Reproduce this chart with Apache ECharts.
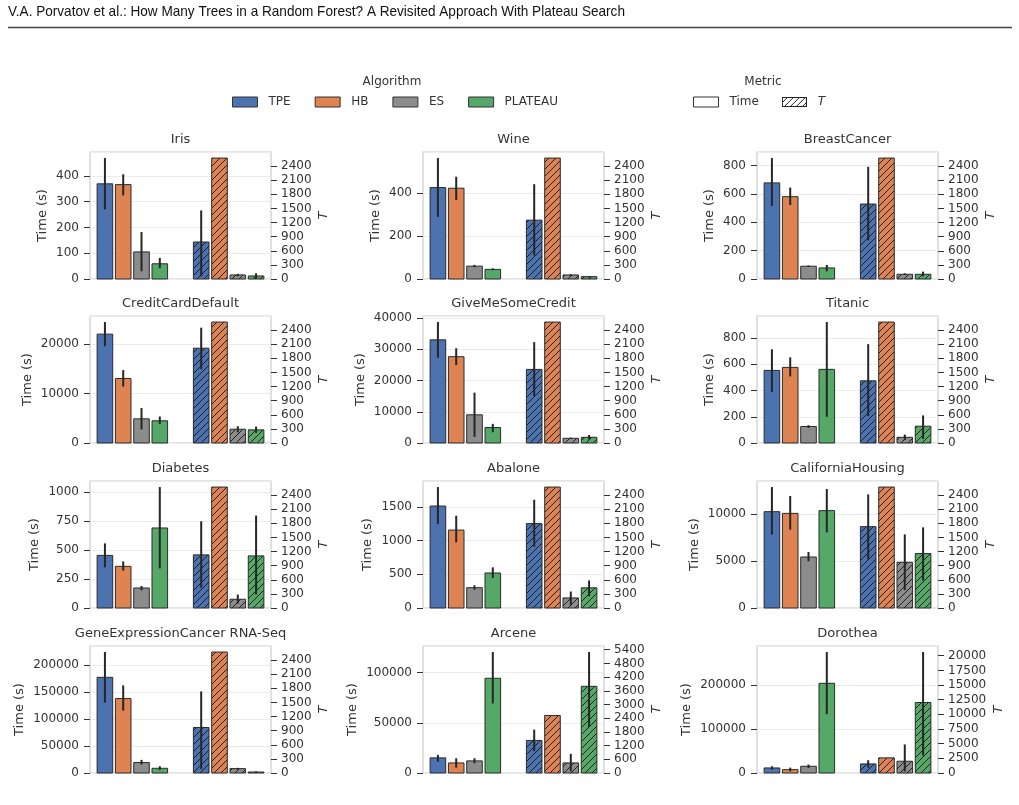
<!DOCTYPE html>
<html><head><meta charset="utf-8">
<script src="https://cdn.jsdelivr.net/npm/echarts@6/dist/echarts.min.js"></script>
<style>html,body{margin:0;padding:0;background:#fff}#c{width:1019px;height:805px}</style>
</head><body><div id="c"></div>
<script>
// ---------------- DATA ----------------
const datasets = ['Iris', 'Wine', 'BreastCancer', 'CreditCardDefault', 'GiveMeSomeCredit', 'Titanic',
  'Diabetes', 'Abalone', 'CaliforniaHousing', 'GeneExpressionCancer RNA-Seq', 'Arcene', 'Dorothea'];
const algorithms = ['TPE', 'HB', 'ES', 'PLATEAU'];
const metrics = ['Time', 'T'];

// Time (s): mean, lower CI, upper CI  (order: TPE, HB, ES, PLATEAU)
const timeMean = [
  [369, 366, 105, 59], [427, 424, 60, 45], [677, 580, 90, 78],
  [21970, 13020, 4880, 4480], [33010, 27630, 9030, 4950], [554, 577, 126, 562],
  [455, 360, 173, 692], [1515, 1158, 302, 520], [10250, 10070, 5430, 10360],
  [177500, 138100, 19400, 8750], [15050, 10030, 12040, 94310], [11450, 7630, 15270, 203800]];
const timeLo = [
  [270, 324, 30, 42], [290, 369, 55, 41], [514, 521, 85, 54],
  [19530, 11390, 2710, 3860], [27310, 24950, 1940, 3440], [390, 508, 115, 200],
  [352, 323, 153, 343], [1248, 975, 272, 446], [7800, 8330, 4970, 8050],
  [130600, 115600, 15600, 5600], [11370, 5350, 9700, 69230], [7630, 3820, 11450, 133600]];
const timeHi = [
  [469, 406, 182, 82], [565, 478, 66, 50], [852, 644, 95, 99],
  [24410, 14710, 7050, 5360], [38710, 30320, 16130, 6130], [715, 654, 136, 923],
  [559, 403, 190, 1046], [1797, 1371, 337, 604], [12870, 11920, 5960, 12660],
  [224400, 162500, 24400, 12500], [18060, 14720, 14720, 120400], [15270, 12210, 19080, 274800]];

// T (number of trees): mean, lower CI, upper CI
const tMean = [
  [786, 2570, 86, 64], [1250, 2570, 86, 50], [1593, 2570, 100, 100],
  [2014, 2570, 293, 279], [1564, 2570, 100, 121], [1321, 2570, 121, 357],
  [1129, 2570, 186, 1107], [1793, 2570, 214, 429], [1729, 2570, 971, 1157],
  [967, 2570, 93, 21], [1427, 2520, 441, 3796], [1547, 2580, 2006, 12030]];
const tLo = [
  [57, 2570, 60, 5], [500, 2570, 64, 36], [821, 2570, 86, 57],
  [1571, 2570, 229, 214], [1000, 2570, 85, 79], [571, 2570, 64, 86],
  [429, 2570, 93, 286], [1300, 2570, 57, 250], [1036, 2570, 379, 586],
  [86, 2570, 70, 10], [956, 2520, 74, 2016], [917, 2580, 287, 2980]];
const tHi = [
  [1457, 2570, 110, 121], [2014, 2570, 100, 64], [2386, 2570, 121, 157],
  [2450, 2570, 357, 350], [2143, 2570, 115, 171], [2100, 2570, 179, 586],
  [1843, 2570, 286, 1964], [2300, 2570, 350, 586], [2414, 2570, 1564, 1714],
  [1734, 2570, 110, 35], [1898, 2520, 839, 5297], [2178, 2580, 4871, 20630]];

// tick steps of the two axes of each panel
const timeInterval = [100, 200, 200, 10000, 10000, 200, 250, 500, 5000, 50000, 50000, 100000];
const tInterval = [300, 300, 300, 300, 300, 300, 300, 300, 300, 300, 600, 2500];

// ---------------- STYLE ----------------
const COLORS = ['#4c72b0', '#dd8452', '#8c8c8c', '#55a868'];
const EDGE = '#2a2a2a';
const TEXT = '#333333';
const FONT = 'DejaVu Sans';
const COL_LEFT = [90, 423, 757];
const ROW_TOP = [152, 316, 481, 646];
const PW = 181, PH = 127;
const PITCH = 0.19, BAR_W = 0.162;

function hatchTile(fill) {
  const s = 7, c = document.createElement('canvas');
  c.width = s; c.height = s;
  const g = c.getContext('2d');
  g.fillStyle = fill; g.fillRect(0, 0, s, s);
  g.strokeStyle = '#1e1e1e'; g.lineWidth = 1;
  g.beginPath();
  for (const k of [0, s, 2 * s]) { g.moveTo(-1, k + 1); g.lineTo(k + 1, -1); }
  g.stroke();
  return c;
}
const patterns = COLORS.map(c => ({ image: hatchTile(c), repeat: 'repeat' }));

function legendHatchIcon() {
  const w = 25, h = 10, c = document.createElement('canvas');
  c.width = w; c.height = h;
  const g = c.getContext('2d');
  g.fillStyle = '#fff'; g.fillRect(0, 0, w, h);
  g.strokeStyle = '#222'; g.lineWidth = 1;
  g.beginPath();
  for (let k = 0; k <= w + h; k += 6) { g.moveTo(k - h - 1, h + 1); g.lineTo(k + 1, -1); }
  g.stroke();
  g.strokeRect(0.5, 0.5, w - 1, h - 1);
  return 'image://' + c.toDataURL();
}

const grid = [], xAxis = [], yAxis = [], series = [], title = [];

title.push({ text: 'Algorithm', left: 392, top: 76, padding: 0, textAlign: 'center',
  textStyle: { fontFamily: FONT, fontSize: 12, fontWeight: 'normal', color: TEXT } });
title.push({ text: 'Metric', left: 763, top: 76, padding: 0, textAlign: 'center',
  textStyle: { fontFamily: FONT, fontSize: 12, fontWeight: 'normal', color: TEXT } });

function makeRender(k, m) {
  return function (params, api) {
    const x = api.value(0), v = api.value(1), lo = api.value(2), hi = api.value(3);
    const xc = x + (k - 1.5) * PITCH;
    const p0 = api.coord([xc - BAR_W / 2, v]);
    const p1 = api.coord([xc + BAR_W / 2, 0]);
    const children = [{
      type: 'rect',
      shape: { x: p0[0], y: p0[1], width: p1[0] - p0[0], height: p1[1] - p0[1] },
      style: { fill: m === 1 ? patterns[k] : COLORS[k], stroke: EDGE, lineWidth: 1 }
    }];
    if (hi > lo) {
      const a = api.coord([xc, lo]), b = api.coord([xc, hi]);
      children.push({ type: 'line', shape: { x1: a[0], y1: a[1], x2: b[0], y2: b[1] },
        style: { stroke: '#262626', lineWidth: 2 }, z2: 10 });
    }
    return { type: 'group', children };
  };
}

function tickFormatter(step) {
  return v => (Math.abs(v / step - Math.round(v / step)) < 1e-6 ? String(Math.round(v)) : '');
}

datasets.forEach((name, i) => {
  const r = Math.floor(i / 3), c = i % 3;
  const left = COL_LEFT[c], top = ROW_TOP[r];
  grid.push({ left, top, width: PW, height: PH, show: true, borderColor: '#cccccc', borderWidth: 1.2, backgroundColor: 'transparent' });
  title.push({ text: name, left: left + PW / 2, top: top - 19, padding: 0, textAlign: 'center',
    textStyle: { fontFamily: FONT, fontSize: 13, fontWeight: 'normal', color: TEXT } });
  xAxis.push({ type: 'value', gridIndex: i, min: -0.44, max: 1.44, show: false, axisLine: { onZero: false } });

  const timeMax = Math.max(...timeMean[i], ...timeHi[i]) * 1.05;
  const tMax = Math.max(...tMean[i], ...tHi[i]) * 1.05;
  const lLen = String(Math.floor(timeMax / timeInterval[i]) * timeInterval[i]).length;
  const rLen = String(Math.floor(tMax / tInterval[i]) * tInterval[i]).length;

  yAxis.push({
    type: 'value', gridIndex: i, position: 'left', min: 0, max: timeMax, interval: timeInterval[i],
    name: 'Time (s)', nameLocation: 'middle', nameRotate: 90, nameGap: lLen * 7.4 + 19,
    nameTextStyle: { fontFamily: FONT, fontSize: 13, color: TEXT },
    axisLine: { show: false, onZero: false },
    axisTick: { show: true, length: 6, lineStyle: { color: '#333', width: 1 } },
    axisLabel: { fontFamily: FONT, fontSize: 12, color: TEXT, margin: 11, showMaxLabel: false,
      formatter: tickFormatter(timeInterval[i]) },
    splitLine: { show: true, lineStyle: { color: '#ececec', width: 1 } }
  });
  yAxis.push({
    type: 'value', gridIndex: i, position: 'right', min: 0, max: tMax, interval: tInterval[i],
    name: 'T', nameLocation: 'middle', nameRotate: 90, nameGap: rLen * 7.4 + 17,
    nameTextStyle: { fontFamily: FONT, fontSize: 13, color: TEXT, fontStyle: 'italic' },
    axisLine: { show: false, onZero: false },
    axisTick: { show: true, length: 6, lineStyle: { color: '#333', width: 1 } },
    axisLabel: { fontFamily: FONT, fontSize: 12, color: TEXT, margin: 10, showMaxLabel: false,
      formatter: tickFormatter(tInterval[i]) },
    splitLine: { show: false }
  });

  [0, 1].forEach(m => {
    const mean = m === 0 ? timeMean : tMean, lo = m === 0 ? timeLo : tLo, hi = m === 0 ? timeHi : tHi;
    algorithms.forEach((alg, k) => {
      series.push({
        type: 'custom', name: alg, xAxisIndex: i, yAxisIndex: 2 * i + m,
        itemStyle: { color: COLORS[k] }, silent: true,
        data: [[m, mean[i][k], lo[i][k], hi[i][k]]],
        renderItem: makeRender(k, m)
      });
    });
  });
});

// empty series to carry the Metric legend entries
metrics.forEach(mname => {
  series.push({ type: 'custom', name: mname, xAxisIndex: 0, yAxisIndex: 0, data: [],
    itemStyle: { color: '#fff' }, renderItem: () => null });
});

const legend = [
  {
    left: 232, top: 96, padding: 0, itemWidth: 25, itemHeight: 10, itemGap: 24, selectedMode: false,
    textStyle: { fontFamily: FONT, fontSize: 12, color: TEXT, padding: [0, 0, 0, 6] },
    data: algorithms.map((a, k) => ({ name: a, icon: 'rect',
      itemStyle: { color: COLORS[k], borderColor: '#333', borderWidth: 1 } }))
  },
  {
    left: 693, top: 96, padding: 0, itemWidth: 25, itemHeight: 10, itemGap: 23, selectedMode: false,
    textStyle: { fontFamily: FONT, fontSize: 12, color: TEXT, padding: [0, 0, 0, 6] },
    data: [
      { name: 'Time', icon: 'rect', itemStyle: { color: '#fff', borderColor: '#333', borderWidth: 1 } },
      { name: 'T', icon: legendHatchIcon(), textStyle: { fontStyle: 'italic' } }
    ]
  }
];

const chart = echarts.init(document.getElementById('c'), null, { renderer: 'canvas' });
chart.setOption({
  animation: false,
  backgroundColor: '#fff',
  textStyle: { fontFamily: FONT },
  title, legend, grid, xAxis, yAxis, series,
  graphic: [
    { type: 'text', left: 8, top: 4, scaleX: 0.905,
      style: { text: 'V.A. Porvatov et al.: How Many Trees in a Random Forest? A Revisited Approach With Plateau Search',
        font: "15px 'Liberation Sans Narrow', 'Liberation Sans', sans-serif", fill: '#111' } },
    { type: 'line', shape: { x1: 8, y1: 27.5, x2: 1012, y2: 27.5 }, style: { stroke: '#444', lineWidth: 1.5 } }
  ]
});
</script></body></html>
